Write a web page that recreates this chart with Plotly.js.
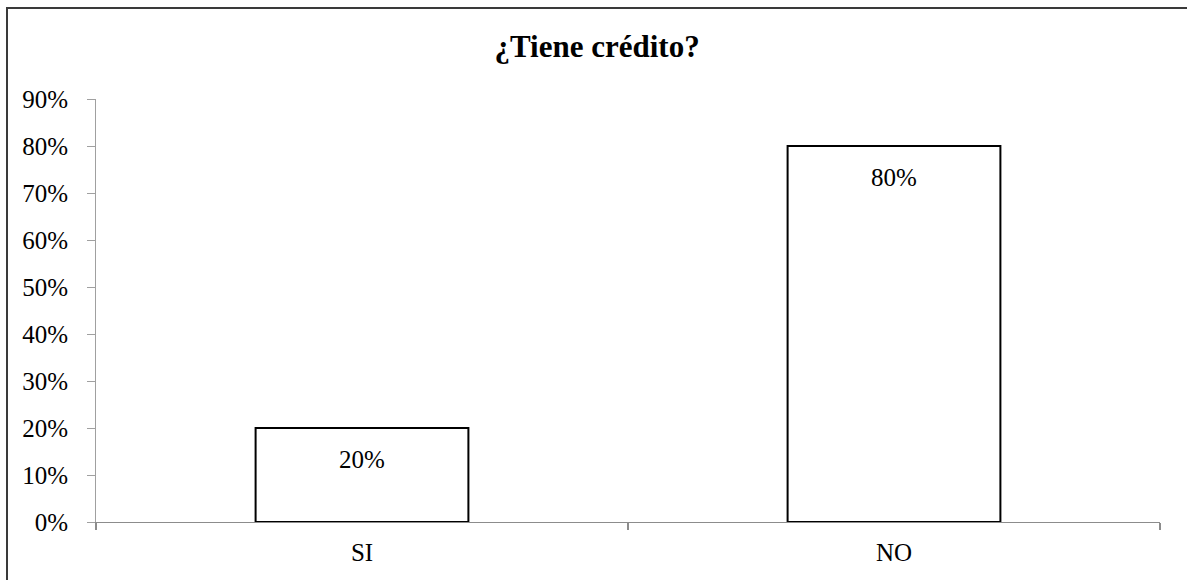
<!DOCTYPE html>
<html>
<head>
<meta charset="utf-8">
<script src="https://cdn.plot.ly/plotly-3.0.1.min.js"></script>
<style>
  html, body { margin: 0; padding: 0; background: #fff; }
  #wrap { position: relative; width: 1187px; height: 580px; overflow: hidden; }
  #chart { width: 1187px; height: 580px; }
  #frame {
    position: absolute; left: 6px; top: 7px; width: 1300px; height: 700px;
    border-left: 2px solid #3a3a3a; border-top: 2px solid #3a3a3a;
    pointer-events: none;
  }
</style>
</head>
<body>
<div id="wrap">
  <div id="chart"></div>
  <div id="frame"></div>
</div>
<script>
// Survey answers: share of respondents who have credit
const categories = ['SI', 'NO'];
const shares = [0.20, 0.80];
const yTicks = [0, 0.1, 0.2, 0.3, 0.4, 0.5, 0.6, 0.7, 0.8, 0.9];

const serif = '"Liberation Serif", "Times New Roman", Times, serif';
const pct = v => Math.round(v * 100) + '%';

const trace = {
  type: 'bar',
  x: categories,
  y: shares,
  width: 0.4,
  marker: { color: '#ffffff', line: { color: '#000000', width: 2 } },
  hoverinfo: 'skip'
};

// Value labels sit just inside the top edge of each bar
const labels = categories.map((c, i) => ({
  x: c, y: shares[i], xref: 'x', yref: 'y',
  text: pct(shares[i]), showarrow: false,
  yanchor: 'top', yshift: -16,
  font: { family: serif, size: 25, color: '#000' }
}));

const layout = {
  width: 1187, height: 580,
  margin: { l: 96, r: 27, t: 99, b: 58 },
  paper_bgcolor: '#fff', plot_bgcolor: '#fff',
  font: { family: serif, size: 25, color: '#000' },
  title: {
    text: '<b>¿Tiene crédito?</b>',
    x: 0.503, xanchor: 'center', y: 0.921, yanchor: 'middle',
    font: { family: serif, size: 31, color: '#000' }
  },
  showlegend: false,
  bargap: 0.6,
  xaxis: {
    type: 'category',
    showgrid: false, zeroline: false,
    showline: true, linecolor: '#8c8c8c', linewidth: 1,
    ticks: 'outside', tickson: 'boundaries', ticklen: 7, tickcolor: '#8c8c8c', tickwidth: 2,
    ticklabelstandoff: 8,
    tickfont: { family: serif, size: 25, color: '#000' }
  },
  yaxis: {
    range: [0, 0.9],
    tickvals: yTicks, ticktext: yTicks.map(pct),
    showgrid: false, zeroline: false,
    showline: true, linecolor: '#a0a0a0', linewidth: 1,
    ticks: 'outside', ticklen: 8, tickcolor: '#a0a0a0', tickwidth: 1,
    ticklabelstandoff: 14,
    tickfont: { family: serif, size: 25, color: '#000' }
  },
  annotations: labels
};

Plotly.newPlot('chart', [trace], layout, { staticPlot: true, displayModeBar: false });
</script>
</body>
</html>
